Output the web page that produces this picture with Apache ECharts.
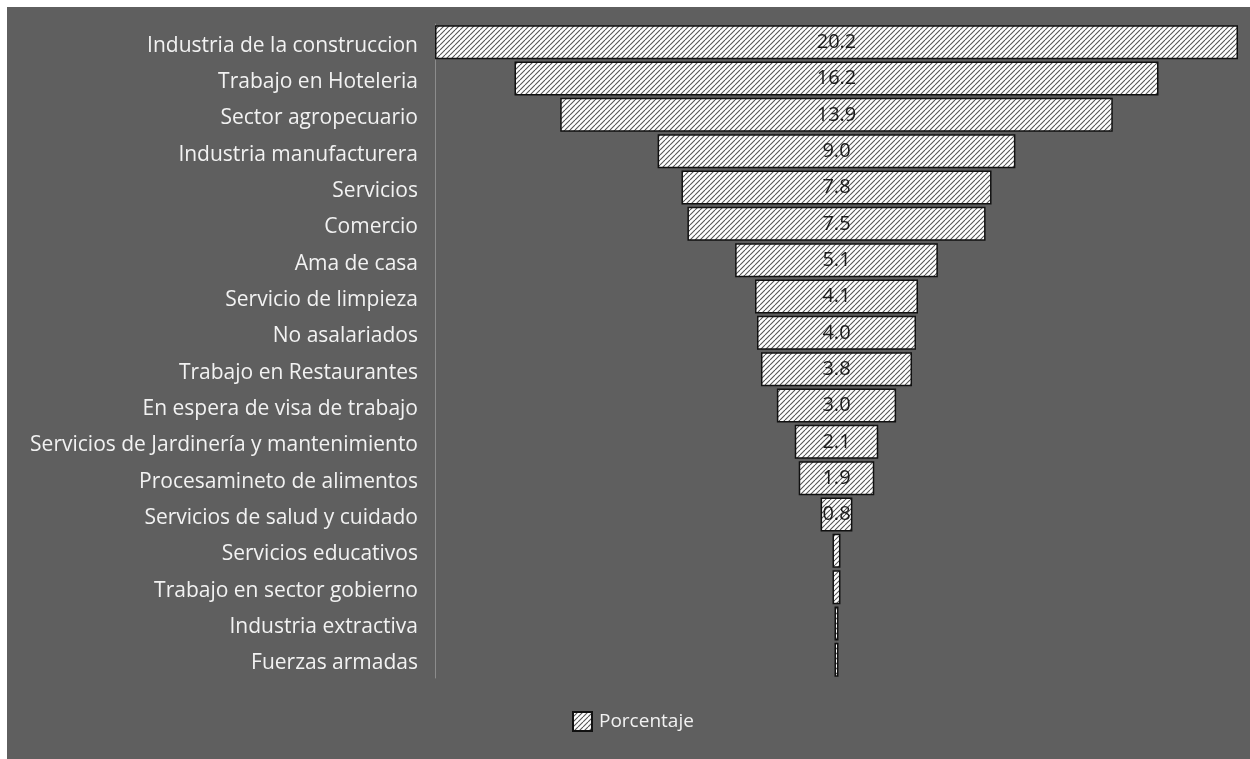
<!DOCTYPE html>
<html>
<head>
<meta charset="utf-8">
<script src="https://cdn.jsdelivr.net/npm/echarts@6/dist/echarts.min.js"></script>
<style>html,body{margin:0;padding:0;background:#fff;}#c{width:1250px;height:759px;}</style>
</head>
<body>
<div id="c"></div>
<script>
const categories = ["Industria de la construccion","Trabajo en Hoteleria","Sector agropecuario","Industria manufacturera","Servicios","Comercio","Ama de casa","Servicio de limpieza","No asalariados","Trabajo en Restaurantes","En espera de visa de trabajo","Servicios de Jardinería y mantenimiento","Procesamineto de alimentos","Servicios de salud y cuidado","Servicios educativos","Trabajo en sector gobierno","Industria extractiva","Fuerzas armadas"];
const porcentaje = [20.2,16.2,13.9,9.0,7.8,7.5,5.1,4.1,4.0,3.8,3.0,2.1,1.9,0.8,0.2,0.2,0.1,0.1];
const seriesName = "Porcentaje";

const maxV = Math.max(...porcentaje);
const offsets = porcentaje.map(v => (maxV - v) / 2);

// hatch pattern
const pc = document.createElement('canvas');
pc.width = 5; pc.height = 5;
const g = pc.getContext('2d');
g.fillStyle = '#ffffff'; g.fillRect(0,0,5,5);
g.strokeStyle = '#555555'; g.lineWidth = 1.1;
for (let k = -1; k <= 1; k++) {
  g.beginPath();
  g.moveTo(k*5, 5); g.lineTo(k*5 + 5, 0);
  g.stroke();
}
const hatch = {image: pc, repeat: 'repeat'};

const chart = echarts.init(document.getElementById('c'));
chart.setOption({
  backgroundColor: '#ffffff',
  animation: false,
  graphic: [{type:'rect', shape:{x:7,y:7,width:1243,height:752}, style:{fill:'#5f5f5f'}, z:-100, silent:true}],
  grid: {left: 435, right: 12, top: 24, bottom: 81},
  legend: {
    data: [seriesName], top: 706, left: 567,
    itemWidth: 19, itemHeight: 19, itemGap: 10,
    textStyle: {color: '#f2f2f2', fontSize: 19, fontFamily: 'Open Sans', padding: [0,0,0,2]},
    icon: 'rect'
  },
  xAxis: {type: 'value', min: 0, max: maxV, show: false},
  yAxis: {
    type: 'category', data: categories, inverse: true,
    axisLine: {show: true, lineStyle: {color: '#8c8c8c', width: 1}},
    axisTick: {show: false},
    axisLabel: {color: '#f2f2f2', fontSize: 21, fontFamily: 'Open Sans', margin: 17,
      formatter: v => '{a|' + v + '}',
      rich: {a: {color: '#f2f2f2', fontSize: 21, fontFamily: 'Open Sans', padding: [7, 0, 0, 0]}}}
  },
  series: [
    {name: 'offset', type: 'bar', stack: 's', data: offsets, itemStyle: {color: 'transparent'}, silent: true, barWidth: 34},
    {name: seriesName, type: 'bar', stack: 's', data: porcentaje, barWidth: 34,
     itemStyle: {color: hatch, borderColor: '#111111', borderWidth: 1.5},
     label: {show: true, position: 'inside', color: '#1a1a1a', fontSize: 20, fontFamily: 'Open Sans',
       formatter: p => p.value >= 0.5 ? p.value.toFixed(1) : ''}
    }
  ]
});
</script>
</body>
</html>
